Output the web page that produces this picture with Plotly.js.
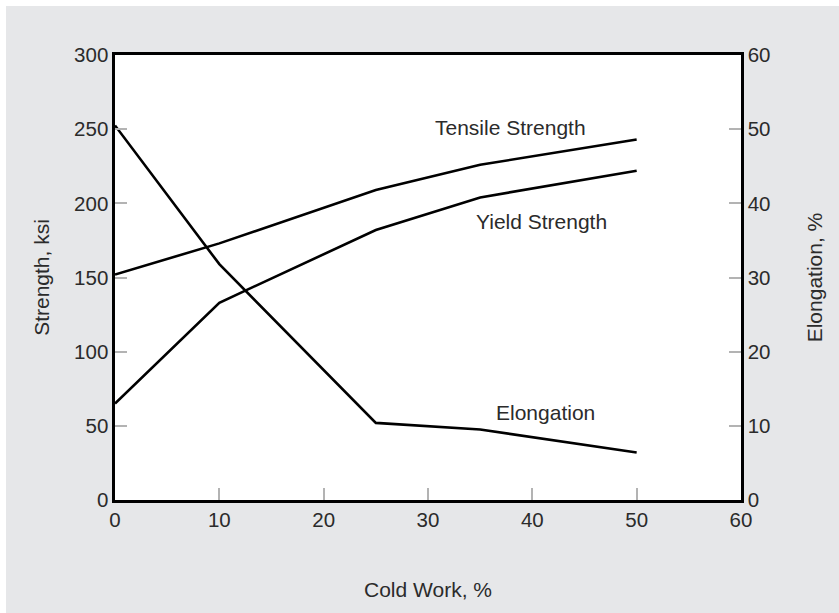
<!DOCTYPE html>
<html>
<head>
<meta charset="utf-8">
<script src="https://cdn.plot.ly/plotly-3.0.1.min.js"></script>
<style>
  html, body { margin: 0; padding: 0; background: #e6e7e9; width: 839px; height: 613px; overflow: hidden; }
  #chart { position: absolute; left: 6px; top: 6px; width: 833px; height: 607px; }
  .edgeTop { position: absolute; left: 0; top: 0; width: 839px; height: 6px; background: #ffffff; }
  .edgeLeft { position: absolute; left: 0; top: 0; width: 6px; height: 613px; background: #ffffff; }
</style>
</head>
<body>
<div class="edgeTop"></div>
<div class="edgeLeft"></div>
<div id="chart"></div>
<script>
// Data
const coldWork = [0, 10, 25, 35, 50];
const tensileStrength = [152, 173, 209, 226, 243];   // ksi (left axis)
const yieldStrength = [65, 133, 182, 204, 222];      // ksi (left axis)
const elongation = [50.5, 31.8, 10.4, 9.5, 6.4];     // % (right axis)

const seriesNames = ['Tensile Strength', 'Yield Strength', 'Elongation'];
const labelX = [37.9, 40.9, 41.3];
const labelY = [251, 188, 59];

const xTicks = [0, 10, 20, 30, 40, 50, 60];
const yTicks = [0, 50, 100, 150, 200, 250, 300];
const y2Ticks = [0, 10, 20, 30, 40, 50, 60];

const fontFam = '"Liberation Sans", Arial, Helvetica, sans-serif';
const txtColor = '#2b2b2b';
const lineStyle = {color: '#000000', width: 2.6};

const traces = [
  {x: coldWork, y: tensileStrength, name: seriesNames[0], mode: 'lines', line: lineStyle, yaxis: 'y'},
  {x: coldWork, y: yieldStrength, name: seriesNames[1], mode: 'lines', line: lineStyle, yaxis: 'y'},
  {x: coldWork, y: elongation, name: seriesNames[2], mode: 'lines', line: lineStyle, yaxis: 'y2'}
];

const axisCommon = {
  showgrid: false, zeroline: false,
  ticks: 'inside', ticklen: 12, tickwidth: 2, tickcolor: '#b3b3b3',
  showline: true, linecolor: '#000000', linewidth: 2.6,
  tickfont: {family: fontFam, size: 20.5, color: txtColor},
  fixedrange: true
};
const titleFont = {family: fontFam, size: 21, color: txtColor};

const layout = {
  width: 833, height: 607,
  margin: {l: 109, r: 98, t: 49, b: 113},
  paper_bgcolor: '#e6e7e9',
  plot_bgcolor: '#ffffff',
  showlegend: false,
  font: {family: fontFam, size: 20, color: txtColor},
  xaxis: Object.assign({}, axisCommon, {
    range: [0, 60], tickvals: xTicks, mirror: true,
    title: {text: 'Cold Work, %', font: titleFont, standoff: 52}
  }),
  yaxis: Object.assign({}, axisCommon, {
    range: [0, 300], tickvals: yTicks,
    title: {text: 'Strength, ksi', font: titleFont, standoff: 19}
  }),
  yaxis2: Object.assign({}, axisCommon, {
    range: [0, 60], tickvals: y2Ticks, overlaying: 'y', side: 'right',
    title: {text: 'Elongation, %', font: titleFont, standoff: 38}
  }),
  annotations: seriesNames.map((n, i) => ({
    x: labelX[i], y: labelY[i], xref: 'x', yref: 'y', text: n, showarrow: false,
    xanchor: 'center', yanchor: 'middle',
    font: {family: fontFam, size: 21, color: txtColor}
  }))
};

Plotly.newPlot('chart', traces, layout, {displayModeBar: false, staticPlot: true});
</script>
</body>
</html>
